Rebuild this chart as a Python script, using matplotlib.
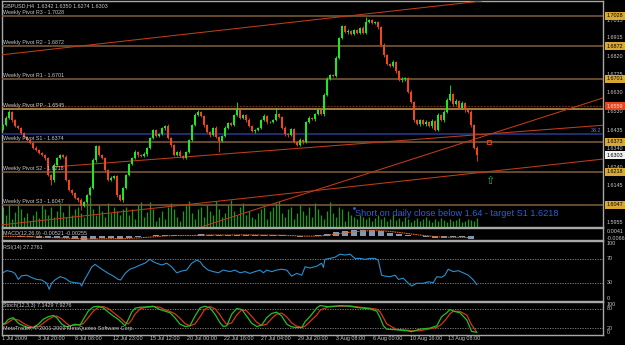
import matplotlib
matplotlib.use("Agg")
import matplotlib.pyplot as plt
import numpy as np

plt.rcParams['font.family'] = ['Liberation Sans', 'DejaVu Sans']

# ---------------- data ----------------
first_open = 1.6440
closes = [1.6461, 1.6498, 1.6529, 1.6487, 1.6456, 1.6446, 1.6420, 1.6399, 1.6383, 1.6368,
          1.6342, 1.6331, 1.6316, 1.6305, 1.6290, 1.6201, 1.6175, 1.6253, 1.6290, 1.6305,
          1.6295, 1.6175, 1.6123, 1.6108, 1.6082, 1.6071, 1.6040, 1.6061, 1.6097, 1.6134,
          1.6279, 1.6352, 1.6305, 1.6290, 1.6227, 1.6175, 1.6186, 1.6196, 1.6097, 1.6071,
          1.6134, 1.6201, 1.6258, 1.6290, 1.6321, 1.6305, 1.6300, 1.6310, 1.6342, 1.6394,
          1.6435, 1.6404, 1.6414, 1.6446, 1.6456, 1.6394, 1.6357, 1.6305, 1.6321, 1.6300,
          1.6290, 1.6321, 1.6383, 1.6461, 1.6513, 1.6529, 1.6508, 1.6461, 1.6425, 1.6409,
          1.6446, 1.6399, 1.6378, 1.6404, 1.6446, 1.6472, 1.6461, 1.6513, 1.6539, 1.6498,
          1.6513, 1.6487, 1.6456, 1.6430, 1.6435, 1.6446, 1.6487, 1.6508, 1.6477, 1.6477,
          1.6487, 1.6518, 1.6503, 1.6446, 1.6414, 1.6409, 1.6440, 1.6373, 1.6357, 1.6383,
          1.6373, 1.6477, 1.6498, 1.6492, 1.6518, 1.6539, 1.6518, 1.6617, 1.6700, 1.6721,
          1.6716, 1.6810, 1.6914, 1.6976, 1.6945, 1.6950, 1.6934, 1.6955, 1.6940, 1.6966,
          1.6940, 1.6997, 1.7007, 1.6992, 1.6997, 1.6971, 1.6877, 1.6825, 1.6778, 1.6768,
          1.6789, 1.6742, 1.6695, 1.6700, 1.6706, 1.6633, 1.6581, 1.6487, 1.6466, 1.6487,
          1.6466, 1.6477, 1.6456, 1.6482, 1.6435, 1.6513, 1.6487, 1.6529, 1.6591, 1.6622,
          1.6570, 1.6586, 1.6550, 1.6576, 1.6539, 1.6529, 1.6461, 1.6342, 1.6303]
hi_wick = [6, 8, 10, 5, 4, 7, 3, 5, 6, 4, 5, 8, 4, 6, 5, 3, 7, 12, 6, 4,
           5, 8, 6, 4, 7, 5, 10, 6, 4, 8, 12, 6, 5, 7, 4, 6, 9, 5, 4, 8,
           6, 5, 7, 4, 8, 5, 6, 10, 4, 5, 8, 6, 4, 7, 5, 9, 4, 6, 5, 8,
           5, 7, 4, 6, 9, 12, 6, 5, 4, 7, 5, 8, 6, 4, 9, 5, 7, 6, 40, 8,
           6, 5, 9, 4, 7, 5, 6, 8, 5, 4, 7, 30, 6, 5, 8, 4, 6, 7, 5, 9,
           4, 6, 8, 5, 7, 6, 5, 9, 12, 6, 8, 10, 5, 7, 6, 9, 5, 8, 6, 7,
           10, 25, 8, 6, 7, 5, 6, 9, 5, 7, 8, 6, 5, 9, 4, 6, 8, 5, 7, 6,
           5, 8, 6, 9, 7, 10, 6, 8, 12, 45, 6, 9, 5, 8, 7, 6, 9, 5, 8]
lo_wick = [5, 6, 4, 8, 5, 6, 4, 7, 5, 6, 8, 4, 6, 5, 9, 7, 25, 8, 6, 5,
           7, 5, 6, 9, 4, 8, 20, 6, 5, 7, 6, 8, 4, 6, 10, 5, 7, 6, 9, 5,
           8, 6, 5, 7, 4, 9, 6, 5, 8, 6, 4, 7, 5, 6, 9, 5, 8, 6, 4, 7,
           6, 5, 8, 4, 7, 6, 5, 9, 6, 8, 5, 6, 55, 7, 5, 8, 6, 4, 7, 6,
           5, 8, 6, 4, 9, 6, 5, 7, 8, 6, 5, 4, 7, 6, 8, 12, 6, 5, 7, 6,
           8, 5, 6, 7, 9, 5, 6, 8, 5, 7, 6, 4, 8, 6, 5, 9, 7, 6, 8, 5,
           6, 8, 5, 7, 6, 9, 5, 8, 6, 7, 5, 8, 6, 9, 10, 7, 5, 8, 6, 9,
           7, 10, 6, 8, 5, 7, 6, 9, 5, 6, 8, 7, 5, 6, 9, 7, 8, 6, 29]
volumes = [20, 12, 22, 8, 15, 22, 18, 10, 14, 6, 12, 16, 9, 22, 18, 12, 20, 10, 16, 24,
           15, 10, 22, 12, 18, 20, 14, 10, 25, 30, 18, 12, 22, 16, 10, 24, 14, 20, 16, 12, 18,
           20, 12, 18, 8, 22, 25, 10, 15, 25, 18, 6, 10, 16, 8, 20, 24, 18, 10, 6, 16,
           22, 26, 14, 8, 18, 20, 10, 22, 16, 12, 26, 18, 10, 14, 22, 27, 16, 12, 20, 24,
           12, 16, 10, 8, 14, 18, 20, 8, 16, 20, 24, 26, 14, 10, 18, 20, 8, 14, 22, 16,
           12, 20, 10, 24, 18, 12, 8, 16, 25, 14, 10, 20, 18, 6, 16, 12, 10, 8, 12, 10,
           8, 10, 6, 9, 12, 8, 10, 6, 8, 12, 7, 9, 6, 10, 8, 5, 7, 9, 6, 8,
           10, 7, 5, 8, 6, 9, 7, 5, 8, 6, 7, 9, 5, 6, 8, 7, 6, 9]

pivot_names = ["R3", "R2", "R1", "PP", "S1", "S2", "S3"]
pivot_levels = [1.7028, 1.6872, 1.6701, 1.6545, 1.6374, 1.6218, 1.6047]
open_line = 1.6559
fib_level = 1.6414

# trend lines: ((bar, price), (bar, price), is_ray)
trend_lines = [((0, 1.6827), (156.7, 1.7101), False),
               ((16.7, 1.6243), (200, 1.6460), True),
               ((68, 1.5941), (200, 1.6602), False),
               ((-1, 1.5941), (200, 1.6284), False)]

price_ticks = [1.6915, 1.6820, 1.6725, 1.6630, 1.6530, 1.6435, 1.6340,
               1.6240, 1.6145, 1.5955]
price_tick_top = 1.7015
price_marks = [(1.7028, 'gold'), (1.6872, 'gold'), (1.6701, 'gold'), (1.6559, 'red'),
               (1.6373, 'gold'), (1.6303, 'white'), (1.6218, 'gold'), (1.6047, 'gold')]

time_pos = [-0.3, 11.7, 24, 36.7, 49, 61.3, 73.7, 86, 98.3, 111, 123.3, 135.7, 148.3]
time_labels = ["1 Jul 2009", "3 Jul 20:00", "8 Jul 08:00", "12 Jul 23:00", "15 Jul 12:00",
               "20 Jul 00:00", "22 Jul 16:00", "27 Jul 04:00", "29 Jul 20:00", "3 Aug 08:00",
               "6 Aug 00:00", "10 Aug 16:00", "13 Aug 08:00"]

macd_t = list(range(0, 157, 3))
macd_main = [-0.0005, -0.0005, -0.0010, -0.0018, -0.0025, -0.0035, -0.0035, -0.0040, -0.0050,
             -0.0058, -0.0045, -0.0035, -0.0040, -0.0045, -0.0030, -0.0015, 0.0000, 0.0015,
             0.0022, 0.0015, 0.0005, 0.0010, 0.0030, 0.0025, 0.0015, 0.0018, 0.0028, 0.0025,
             0.0015, 0.0015, 0.0018, 0.0012, 0.0000, -0.0008, 0.0000, 0.0012, 0.0040, 0.0070,
             0.0095, 0.0100, 0.0098, 0.0100, 0.0090, 0.0060, 0.0035, 0.0020, -0.0005, -0.0020,
             -0.0030, -0.0025, -0.0015, -0.0020, -0.0045]
macd_signal = [-0.0003, -0.0004, -0.0006, -0.0010, -0.0015, -0.0022, -0.0028, -0.0033, -0.0039,
               -0.0045, -0.0048, -0.0045, -0.0042, -0.0042, -0.0038, -0.0030, -0.0020, -0.0008,
               0.0005, 0.0012, 0.0012, 0.0011, 0.0016, 0.0020, 0.0020, 0.0019, 0.0021, 0.0023,
               0.0021, 0.0018, 0.0017, 0.0015, 0.0010, 0.0003, 0.0000, 0.0003, 0.0015, 0.0035,
               0.0058, 0.0075, 0.0088, 0.0095, 0.0094, 0.0082, 0.0064, 0.0045, 0.0025, 0.0008,
               -0.0008, -0.0018, -0.0020, -0.0020, -0.0026]

rsi_t = [-0.4, 1.2, 2.9, 4, 5.1, 6.2, 7.9, 9.6, 11.2, 12.9, 14.6, 15.4, 16.2, 17.3, 19, 20.7,
         22.3, 24, 25.7, 26.2, 26.8, 28.4, 29.6, 30.7, 31.8, 33.4, 35.1, 36.8, 38.4, 39.2,
         40.7, 42.3, 44, 45.7, 47.3, 49, 50.1, 51.2, 52.9, 54.6, 56.2, 57.9, 59.6, 61.2,
         62.9, 64.6, 65.7, 66.8, 68.4, 70.1, 71.8, 73.4, 75.7, 77.3, 79, 80.7, 82.3, 84,
         85.7, 86.8, 87.9, 89.6, 91.2, 92.9, 94.6, 96.2, 97.9, 99.6, 100.7, 102.3, 104.6,
         106.2, 106.8, 107.3, 109, 110.7, 112.3, 114, 115.7, 117.3, 119, 120.7, 122.3, 124,
         125.1, 126.2, 127.3, 129, 130.7, 131.8, 133.4, 134.6, 136.2, 137.9, 140.1, 141.8,
         143.4, 144.6, 146.2, 147.3, 148.4, 150.1, 151.8, 153.4, 155.1, 156.8, 157.9]
rsi_v = [46, 50.6, 49, 46, 36, 42, 43, 39, 36, 35, 29.5, 19.5, 29.5, 35, 40.5, 38,
         32, 30.5, 29.5, 25, 32, 46, 57, 61, 57, 51.5, 46, 41.5, 36, 35,
         46, 53, 56, 60, 63, 69.5, 65.5, 63, 60, 63, 57, 47, 50, 51.5,
         63, 68, 65.5, 58, 51.5, 49, 47, 51.5, 49, 51.5, 47, 49, 46, 49,
         51.5, 47, 51.5, 49, 51.5, 53, 51.5, 41.5, 46, 43, 57, 55, 58,
         63, 56, 69.5, 71, 73, 78, 76.7, 78, 71, 71, 69.5, 71, 71,
         68, 43, 41.5, 40.5, 43, 36, 38, 32, 25, 29.5, 29.5, 32,
         30.5, 40.5, 39.5, 43, 53, 49, 50.5, 47, 43, 35, 27.3]

sto_t = [-0.4, 0.7, 1.8, 3.4, 5.1, 6.8, 8.4, 10.1, 11.8, 13.4, 15.1, 16.8, 17.9, 19.6, 21.2,
         22.3, 24, 25.7, 26.8, 28.4, 30.1, 31.8, 33.4, 35.1, 36.8, 38.4, 39.6, 40.7, 41.8,
         42.9, 44, 45.7, 47.9, 50.1, 52.3, 54, 55.7, 57.3, 59, 60.7, 62.3, 64, 65.7, 67.3,
         69, 70.7, 72.3, 73.4, 74.6, 76.2, 77.9, 79.6, 81.2, 82.9, 84.6, 86.2, 87.9, 89.6,
         91.2, 92.9, 94.6, 96.2, 97.9, 99.6, 100.7, 102.3, 104.6, 105.7, 109, 112.3, 115.7,
         119, 122.3, 124.6, 125.7, 126.8, 127.9, 131.2, 134.6, 136.2, 139, 142.3, 144.6,
         146.2, 147.9, 149, 150.1, 152.3, 154.6, 156.2, 157.9]
sto_main = [30, 35, 47, 52, 35, 27, 22, 21, 32, 47, 55, 59, 52, 32, 24,
            27, 32, 29, 47, 72, 85, 87, 82, 69, 57, 47, 37, 27, 47,
            69, 81, 84, 85, 87, 77, 72, 67, 52, 32, 25, 27, 57, 82, 87,
            82, 62, 37, 25, 27, 62, 80, 77, 57, 35, 25, 29, 52, 65,
            69, 57, 32, 24, 22, 22, 40, 55, 82, 89, 85, 89, 87,
            82, 79, 72, 52, 27, 17, 15, 12, 9, 17, 20, 27,
            55, 67, 77, 72, 67, 45, 10, 7.1]
sto_signal = [32, 32, 38, 48, 45, 35, 27, 23, 24, 35, 47, 55, 57, 48, 34,
              27, 29, 31, 34, 52, 72, 84, 86, 80, 68, 56, 47, 37, 33,
              45, 63, 79, 84, 86, 84, 76, 71, 64, 50, 34, 27, 33, 55, 78,
              86, 79, 61, 45, 31, 36, 60, 76, 73, 56, 38, 28, 32, 50,
              63, 66, 54, 36, 26, 22, 26, 40, 60, 75, 87, 87, 88,
              84, 81, 78, 70, 52, 33, 16, 14, 12, 12, 18, 22,
              32, 50, 64, 72, 71, 60, 30, 7.9]

# ---------------- figure ----------------
W, H = 625, 345
fig = plt.figure(figsize=(W / 100, H / 100), dpi=100, facecolor='black')


def px_axes(x0, y0, x1, y1):
    return fig.add_axes([x0 / W, 1 - y1 / H, (x1 - x0) / W, (y1 - y0) / H])


main = px_axes(2, 1, 603, 227)
macd = px_axes(2, 228, 603, 240)
rsi = px_axes(2, 241, 603, 301)
sto = px_axes(2, 302, 603, 335)

XL = (-1 / 3, 200)
GRAY = '#c8c8c8'
FS = 3.9

for a in (main, macd, rsi, sto):
    a.set_facecolor('black')
    a.set_xlim(*XL)
    a.set_xticks([])
    a.set_yticks([])
    for s in a.spines.values():
        s.set_color('#a8a8a8')
        s.set_linewidth(1.0)

# volume behind
vol = main.twinx()
vol.set_zorder(0)
main.set_zorder(1)
main.patch.set_visible(False)
vol.patch.set_facecolor('black')
vol.set_ylim(0, 226)
vol.set_yticks([])
vol.set_xlim(*XL)
for s in vol.spines.values():
    s.set_visible(False)

n = len(closes)
idx = np.arange(n)
c = np.array(closes)
o = np.array([first_open] + closes[:-1])
top = np.maximum(o, c)
bot = np.minimum(o, c)
hi = top + np.array(hi_wick) * 1e-4
lo = bot - np.array(lo_wick) * 1e-4
up = c >= o
cols = np.where(up, '#1ee81e', '#f0461e')

vol.vlines(idx, 0, volumes, colors='#169c16', lw=0.9)

main.set_ylim(1.59308, 1.7106)
main.vlines(idx, lo, hi, colors=cols, lw=0.6, zorder=5)
main.bar(idx, np.maximum(top - bot, 0.00012), bottom=bot, width=0.75, color=cols,
         linewidth=0, zorder=6)

# pivot lines
for name, lv in zip(pivot_names, pivot_levels):
    col = '#c8a04a' if name == 'PP' else '#80603c'
    main.axhline(lv, color=col, lw=1.1, zorder=3)
    main.text(0.002, lv + 0.0003, f"Weekly Pivot {name} - {lv:.4f}", color=GRAY,
              fontsize=FS, transform=main.get_yaxis_transform(), va='bottom', ha='left',
              zorder=7)
main.axhline(open_line, color='#6e3018', lw=0.9, ls=(0, (1.5, 1)), zorder=3)
main.axhline(fib_level, color='#1f2f72', lw=1.4, zorder=3)
main.text(0.998, fib_level + 0.0004, "38.2", color='#6080c0', fontsize=FS,
          transform=main.get_yaxis_transform(), va='bottom', ha='right')

# trend lines
for p1, p2, ray in trend_lines:
    if ray:
        slope = (p2[1] - p1[1]) / (p2[0] - p1[0])
        main.plot([p1[0], XL[1]], [p1[1], p1[1] + slope * (XL[1] - p1[0])],
                  color='#c03c1a', lw=0.75, zorder=4)
    else:
        main.axline(p1, p2, color='#c03c1a', lw=0.75, zorder=4)

# markers
main.plot([162], [1.6375], marker='s', ms=2.6, mfc='none', mec='#e04020', mew=0.7, zorder=7)
main.text(162.3, 1.6170, "\u21e7", color='#20b040', fontsize=8, ha='center', va='center',
          family='DejaVu Sans', zorder=7)
main.plot([117], [1.6030], marker='o', ms=1.0, color='#3060e0', zorder=7)
main.text(117.3, 1.6003, "Short on daily close below 1.64 - target S1 1.6218",
          color='#2e5fd8', fontsize=6.6, ha='left', va='center', zorder=8)

main.text(0.002, 1 - 5 / 226, "GBPUSD,H4  1.6342 1.6350 1.6274 1.6303", color=GRAY,
          fontsize=FS, transform=main.transAxes, va='center', ha='left')

# right price scale
for t in price_ticks:
    main.text(1.006, t, f"{t:.4f}", color=GRAY, fontsize=FS, va='center', ha='left',
              transform=main.get_yaxis_transform(), clip_on=False)
main.text(1.006, price_tick_top, f"{price_tick_top:.4f}", color=GRAY, fontsize=FS,
          va='top', ha='left', transform=main.get_yaxis_transform(), clip_on=False)
face = {'gold': '#d8a832', 'red': '#e6441e', 'white': '#f0f0f0'}
for v, kind in price_marks:
    main.text(1.006, v, f"{v:.4f}", color='black' if kind != 'red' else '#ffe0d0',
              fontsize=FS, va='center', ha='left', transform=main.get_yaxis_transform(),
              clip_on=False, zorder=10,
              bbox=dict(boxstyle='square,pad=0.28', fc=face[kind], ec='none'))

# MACD
macd.set_ylim(-0.0066, 0.0141)
macd.bar(macd_t, macd_main, width=2.0, color='#8298b0', linewidth=0)
macd.plot(macd_t, macd_signal, color='#e0641e', lw=0.8, ls=(0, (1.5, 0.6)))
macd.text(0.002, 0.55, "MACD(12,26,9) -0.00521 -0.00255", color=GRAY, fontsize=FS,
          transform=macd.transAxes, va='center', ha='left')
macd.text(1.006, 0.7, "0.0041", color=GRAY, fontsize=FS, transform=macd.transAxes,
          va='center', ha='left', clip_on=False)
macd.text(1.006, 0.15, "-0.0066", color=GRAY, fontsize=FS, transform=macd.transAxes,
          va='center', ha='left', clip_on=False)

# RSI
rsi.set_ylim(0, 100)
for lv in (70, 30):
    rsi.axhline(lv, color='#8c8c8c', lw=0.6, ls=(0, (1.5, 1.5)))
rsi.plot(rsi_t, rsi_v, color='#2a90d0', lw=0.8)
rsi.text(0.002, 0.9, "RSI(14) 27.2761", color=GRAY, fontsize=FS, transform=rsi.transAxes,
         va='center', ha='left')
for v, va in [(100, 'top'), (70, 'center'), (30, 'center'), (0, 'bottom')]:
    rsi.text(1.006, v, str(v), color=GRAY, fontsize=FS, va=va, ha='left',
             transform=rsi.get_yaxis_transform(), clip_on=False)

# Stochastic
sto.set_ylim(-1, 100)
for lv in (80, 20):
    sto.axhline(lv, color='#8c8c8c', lw=0.6, ls=(0, (1.5, 1.5)))
sto.plot(sto_t, sto_signal, color='#d8341c', lw=0.9)
sto.plot(sto_t, sto_main, color='#22c022', lw=0.9)
sto.text(0.002, 0.9, "Stoch(12,3,3) 7.1429 7.9276", color=GRAY, fontsize=FS,
         transform=sto.transAxes, va='center', ha='left')
sto.text(0.002, 0.2, "MetaTrader, \u00a9 2001-2009 MetaQuotes Software Corp.", color=GRAY,
         fontsize=FS, transform=sto.transAxes, va='center', ha='left')
for v, va in [(100, 'top'), (80, 'center'), (20, 'center'), (0, 'bottom')]:
    sto.text(1.006, v, str(v), color=GRAY, fontsize=FS, va=va, ha='left',
             transform=sto.get_yaxis_transform(), clip_on=False)

# time axis
for tp, tl in zip(time_pos, time_labels):
    sto.text(tp, -0.12, tl, color=GRAY, fontsize=FS, ha='left', va='center',
             transform=sto.get_xaxis_transform(), clip_on=False)

fig.savefig("out.png", dpi=100, facecolor='black')
